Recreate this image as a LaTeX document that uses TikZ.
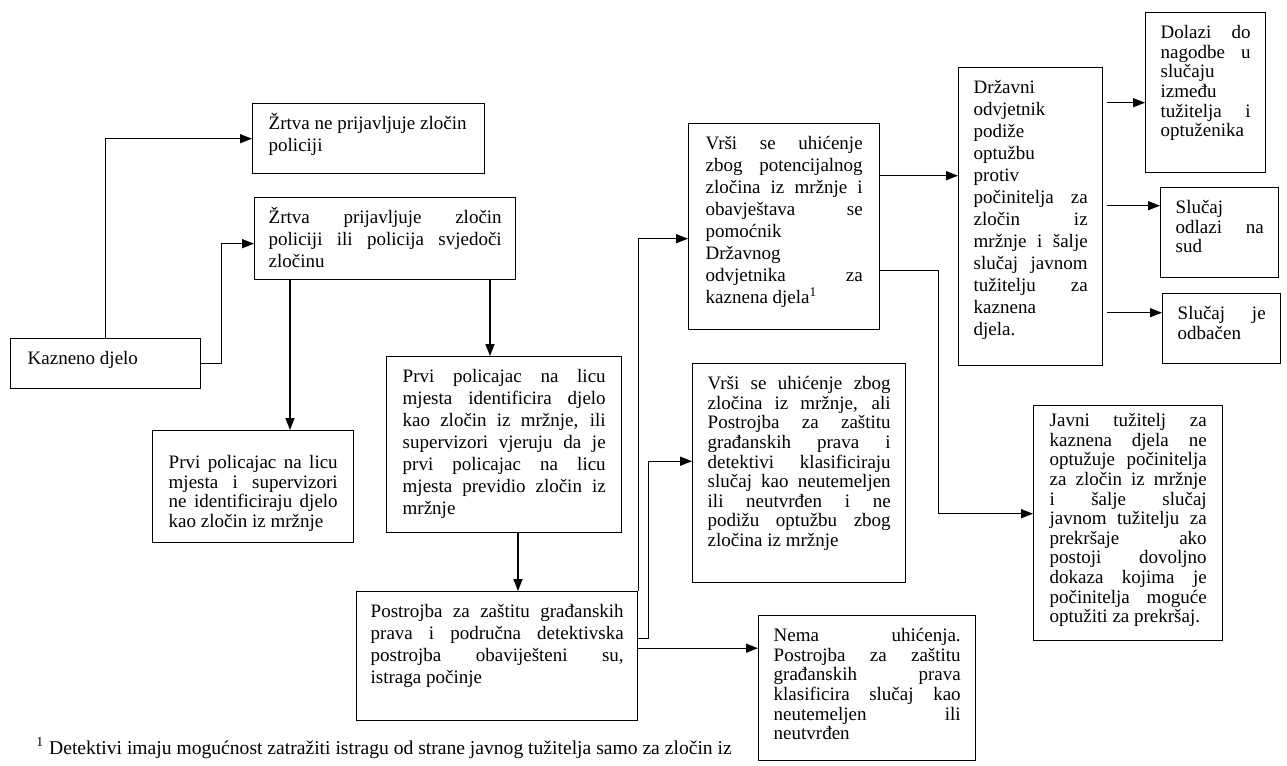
\documentclass[tikz,border=0pt]{standalone}
\usepackage{fontspec}
\setmainfont{Liberation Serif}
\usetikzlibrary{arrows.meta}
\tolerance=10000
\hbadness=10000
\hyphenpenalty=10000

\begin{document}
\begin{tikzpicture}[x=0.5pt, y=-0.5pt,
        box/.style={draw, line width=0.7pt, anchor=north west, align=justify,
                font=\fontsize{9.5}{9.8}\selectfont, text height=7pt, inner ysep=6pt},
        roomy/.style={font=\fontsize{9.5}{11}\selectfont}]
        \useasboundingbox (0,0) rectangle (1287,766);
        \begin{scope}[every node/.style={box}]
                \node[inner xsep=8.5pt, text width=78pt, text depth=6pt] (kazneno) at (10,338) {Kazneno djelo};
                \node[roomy, inner xsep=8pt, text width=100pt, text depth=16pt] (zrtvaNe) at (252,103) {Žrtva ne prijavljuje zločin\newline policiji};
                \node[roomy, inner xsep=7pt, text width=116.5pt, text depth=22pt] (zrtvaDa) at (254,197) {Žrtva prijavljuje zločin\linebreak policiji ili policija svjedoči\linebreak zločinu};
                \node[inner xsep=8pt, text width=84.5pt, text height=13pt, text depth=31pt] (prvi1) at (152,430) {Prvi policajac na licu\linebreak mjesta i supervizori\linebreak ne identificiraju djelo\linebreak kao zločin iz mržnje};
                \node[roomy, inner xsep=8pt, text width=101.5pt, text depth=69pt] (prvi2) at (386,356) {Prvi policajac na licu\linebreak mjesta identificira djelo\linebreak kao zločin iz mržnje, ili\linebreak supervizori vjeruju da je\linebreak prvi policajac na licu\linebreak mjesta previdio zločin iz\linebreak mržnje};
                \node[roomy, inner xsep=7pt, text width=126.5pt, text depth=45.5pt] (post) at (356,591) {Postrojba za zaštitu građanskih\linebreak prava i područna detektivska\linebreak postrojba obaviješteni su,\linebreak istraga počinje};
                \node[roomy, inner xsep=8.5pt, text width=78.5pt, text depth=84pt] (vrsi1) at (688,123) {Vrši se uhićenje\linebreak zbog potencijalnog\linebreak zločina iz mržnje i\linebreak obavještava se\linebreak pomoćnik\newline Državnog\newline odvjetnika za\linebreak kaznena djela\textsuperscript{1}};
                \node[inner xsep=7.5pt, text width=91.5pt, text depth=90.5pt] (vrsi2) at (692,363) {Vrši se uhićenje zbog\linebreak zločina iz mržnje, ali\linebreak Postrojba za zaštitu\linebreak građanskih prava i\linebreak detektivi klasificiraju\linebreak slučaj kao neutemeljen\linebreak ili neutvrđen i ne\linebreak podižu optužbu zbog\linebreak zločina iz mržnje};
                \node[inner xsep=7.5pt, text width=93.5pt, text depth=53.5pt] (nema) at (758,615) {Nema uhićenja.\linebreak Postrojba za zaštitu\linebreak građanskih prava\linebreak klasificira slučaj kao\linebreak neutemeljen ili\linebreak neutvrđen};
                \node[roomy, inner xsep=7.5pt, text width=57pt, text depth=130pt] (drzavni) at (958,67) {Državni\newline odvjetnik\newline podiže\newline optužbu\newline protiv\newline počinitelja za\linebreak zločin iz\linebreak mržnje i šalje\linebreak slučaj javnom\linebreak tužitelju za\linebreak kaznena\newline djela.};
                \node[inner xsep=7.5pt, text width=45pt, text depth=61pt] (dolazi) at (1145,12) {Dolazi do\linebreak nagodbe u\linebreak slučaju\newline između\newline tužitelja i\linebreak optuženika};
                \node[inner xsep=7.5pt, text width=44pt, text depth=26pt] (odlazi) at (1160,187) {Slučaj\newline odlazi na\linebreak sud};
                \node[inner xsep=7.5pt, text width=44pt, text depth=16pt] (odbacen) at (1162,293) {Slučaj je\linebreak odbačen};
                \node[inner xsep=8pt, text width=78.5pt, text height=4.5pt, text depth=101pt] (javni) at (1033,405) {Javni tužitelj za\linebreak kaznena djela ne\linebreak optužuje počinitelja\linebreak za zločin iz mržnje\linebreak i šalje slučaj\linebreak javnom tužitelju za\linebreak prekršaje ako\linebreak postoji dovoljno\linebreak dokaza kojima je\linebreak počinitelja moguće\linebreak optužiti za prekršaj.};
        \end{scope}
        \node[anchor=west, inner sep=0pt, font=\fontsize{9.8}{11}\selectfont] (fnote) at (36,748) {\textsuperscript{1} Detektivi imaju mogućnost zatražiti istragu od strane javnog tužitelja samo za zločin iz};
        % odvojci
        \coordinate (x1) at (290,0);
        \coordinate (x2) at (490,0);
        \coordinate (x3) at (518,0);
        \coordinate (pn) at ([yshift=4pt]post.east);
        \coordinate (v1a) at ([yshift=25.5pt]vrsi1.east);
        \coordinate (v1b) at ([yshift=-22pt]vrsi1.east);
        \coordinate (d1) at ([yshift=57pt]drzavni.east);
        \coordinate (d2) at ([yshift=5.5pt]drzavni.east);
        \coordinate (d3) at ([yshift=-48pt]drzavni.east);
        \begin{scope}[every path/.style={line width=0.7pt, ->, >={Triangle[length=6pt,width=4.5pt]}}]
                \draw (kazneno.north) |- (zrtvaNe.west);
                \draw (kazneno.east) -- ++(20,0) |- ([yshift=-2.5pt]zrtvaDa.west);
                \draw (zrtvaDa.south -| x1) -- (prvi1.north -| x1);
                \draw (zrtvaDa.south -| x2) -- (prvi2.north -| x2);
                \draw (prvi2.south -| x3) -- (post.north -| x3);
                \draw (post.north east) |- ([yshift=-6pt]vrsi1.west);
                \draw ([yshift=9pt]post.east) -- ++(10,0) |- ([yshift=6pt]vrsi2.west);
                \draw (pn) -- (pn -| nema.west);
                \draw (v1a) -- (v1a -| drzavni.west);
                \draw (v1b) -- ++(58,0) |- ([yshift=4.75pt]javni.west);
                \draw[shorten <=2pt] (d1) -- (d1 -| dolazi.west);
                \draw[shorten <=2pt] (d2) -- (d2 -| odlazi.west);
                \draw[shorten <=2pt] (d3) -- (d3 -| odbacen.west);
        \end{scope}
\end{tikzpicture}
\end{document}
